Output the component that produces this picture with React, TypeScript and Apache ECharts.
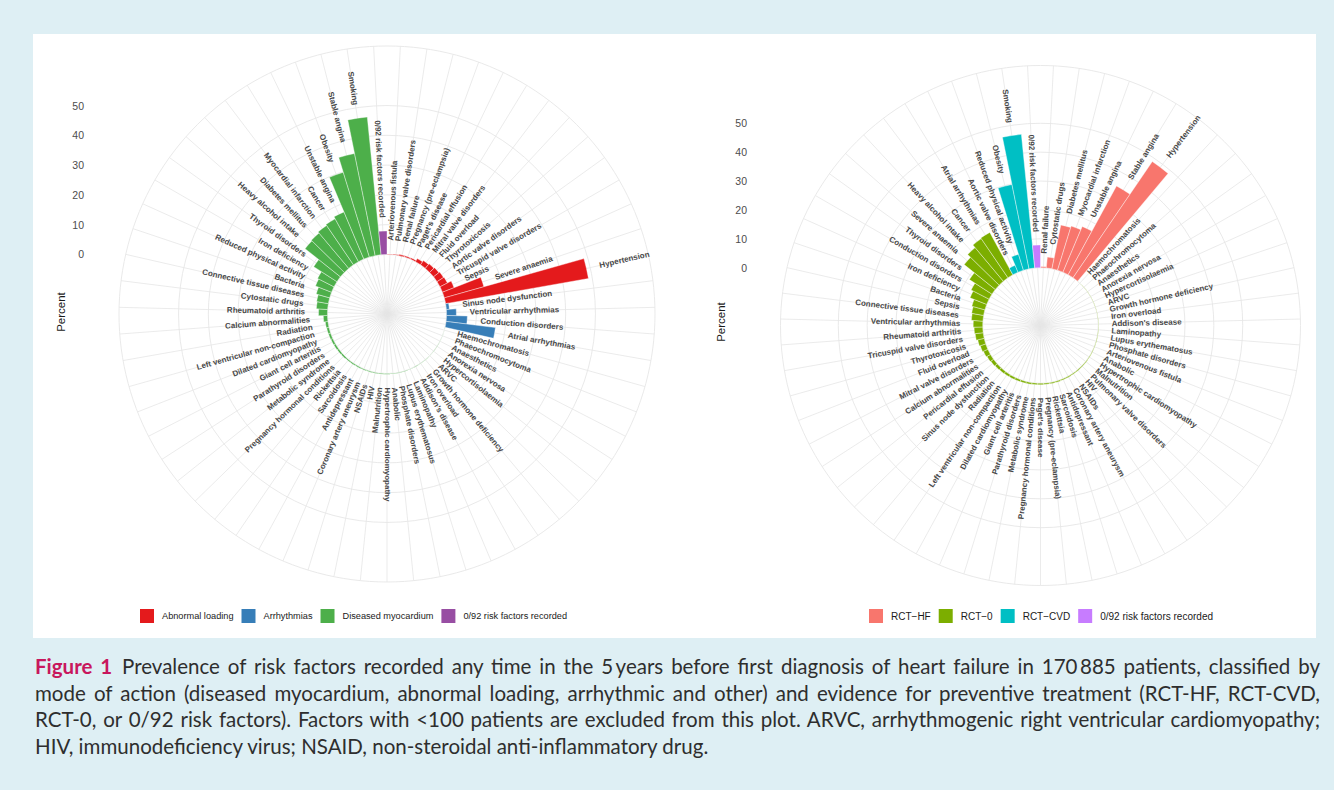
import { useEffect, useRef } from "react";
import * as echarts from "echarts";

// Risk factors, listed with their prevalence (% of patients) in the 5 years before HF diagnosis
const factors: string[] = [
  "Haemochromatosis", "Phaeochromocytoma", "Anaesthetics", "Anorexia nervosa", "Hypercortisolaemia", "ARVC",
  "Growth hormone deficiency", "Iron overload", "Addison's disease", "Laminopathy", "Lupus erythematosus",
  "Phosphate disorders", "Arteriovenous fistula", "Anabolic", "Hypertrophic cardiomyopathy", "Malnutrition",
  "Pulmonary valve disorders", "HIV", "NSAIDs", "Coronary artery aneurysm", "Antidepressant", "Sarcoidosis",
  "Rickettsia", "Renal failure", "Pregnancy (pre-eclampsia)", "Paget's disease", "Pregnancy hormonal conditions",
  "Metabolic syndrome", "Parathyroid disorders", "Giant cell arteritis", "Dilated cardiomyopathy",
  "Left ventricular non-compaction", "Radiation", "Sinus node dysfunction", "Pericardial effusion",
  "Calcium abnormalities", "Mitral valve disorders", "Fluid overload", "Thyrotoxicosis", "Aortic valve disorders",
  "Tricuspid valve disorders", "Rheumatoid arthritis", "Ventricular arrhythmias", "Cytostatic drugs",
  "Connective tissue diseases", "Sepsis", "Bacteria", "Reduced physical activity", "Iron deficiency",
  "Conduction disorders", "Thyroid disorders", "Severe anaemia", "Heavy alcohol intake", "Diabetes mellitus",
  "Myocardial infarction", "Cancer", "Atrial arrhythmias", "Unstable angina", "Obesity", "Stable angina",
  "Smoking", "Hypertension", "0/92 risk factors recorded",
];

const prevalence: number[] = [
  0.05, 0.06, 0.07, 0.08, 0.09, 0.1,
  0.11, 0.12, 0.13, 0.14, 0.16,
  0.18, 0.19, 0.2, 0.22, 0.25,
  0.27, 0.3, 0.32, 0.35, 0.38, 0.4,
  0.42, 0.43, 0.45, 0.5, 0.55,
  0.6, 0.65, 0.7, 0.75,
  0.8, 0.9, 1.0, 1.2,
  1.4, 1.7, 2.0, 2.3, 2.6,
  2.8, 3.0, 3.3, 3.8,
  4.0, 4.2, 4.7, 5.8, 6.2,
  7.0, 9.3, 13.8, 15.2, 15.5,
  16.0, 16.4, 16.7, 17.2, 29.8, 35.0,
  46.5, 48.7, 7.9,
];

// Mode of action of each factor (left wheel)
const AL = "Abnormal loading";
const AR = "Arrhythmias";
const DM = "Diseased myocardium";
const NONE = "0/92 risk factors recorded";
const modeOfAction: string[] = [
  DM, DM, DM, DM, DM, DM,
  DM, DM, DM, DM, DM,
  DM, AL, DM, DM, DM,
  AL, DM, DM, DM, DM, DM,
  DM, AL, AL, AL, DM,
  DM, DM, DM, DM,
  DM, DM, AR, AL,
  DM, AL, AL, AL, AL,
  AL, DM, AR, DM,
  DM, AL, DM, DM, DM,
  AR, DM, AL, DM, DM,
  DM, DM, AR, DM, DM, DM,
  DM, AL, NONE,
];
const modeGroups: string[] = [AL, AR, DM, NONE];
const modeColors: string[] = ["#E41A1C", "#377EB8", "#4DAF4A", "#984EA3"];

// Evidence for preventive treatment of each factor (right wheel)
const HF = "RCT\u2212HF";
const R0 = "RCT\u22120";
const CVD = "RCT\u2212CVD";
const treatmentEvidence: string[] = [
  R0, R0, R0, R0, R0, R0,
  R0, R0, R0, R0, R0,
  R0, R0, R0, R0, R0,
  R0, R0, R0, R0, R0, R0,
  R0, HF, R0, R0, R0,
  R0, R0, R0, R0,
  R0, R0, R0, R0,
  R0, R0, R0, R0, CVD,
  R0, R0, R0, HF,
  R0, R0, R0, CVD, R0,
  R0, R0, R0, R0, HF,
  HF, R0, R0, HF, CVD, HF,
  CVD, HF, NONE,
];
const evidenceGroups: string[] = [HF, R0, CVD, NONE];
const evidenceColors: string[] = ["#F8766D", "#7CAE00", "#00BFC4", "#C77CFF"];

const percentTicks: number[] = [0, 10, 20, 30, 40, 50];
const RADIAL_MIN = -20;
const RADIAL_MAX = 70;
const LABEL_PAD = 4.5;
const GRID_COLOR = "#E6E6E6";

// factor indices sorted by group, then ascending prevalence
function wheelOrder(groupOf: string[], groups: string[]): number[] {
  return factors
    .map((_, i) => i)
    .sort((a, b) => {
      const ga = groups.indexOf(groupOf[a]);
      const gb = groups.indexOf(groupOf[b]);
      if (ga !== gb) return ga - gb;
      return prevalence[a] - prevalence[b];
    });
}

interface WheelSpec {
  polarIndex: number;
  order: number[];
  groupOf: string[];
  groups: string[];
  colors: string[];
  tickOffset: number;
  tickFont: number;
  labelFont: number;
}

function wheelSeries(w: WheelSpec): any[] {
  const out: any[] = [];
  // spokes through every factor, from the centre to the rim
  out.push({
    type: "custom",
    coordinateSystem: "polar",
    polarIndex: w.polarIndex,
    silent: true,
    z: 1,
    data: w.order.map((_, k) => [RADIAL_MAX, k]),
    renderItem: (params: any, api: any) => {
      const cs = params.coordSys;
      const p = api.coord([api.value(0), api.value(1)]);
      return {
        type: "line",
        shape: { x1: cs.cx, y1: cs.cy, x2: p[0], y2: p[1] },
        style: { stroke: GRID_COLOR, lineWidth: 0.8 },
      };
    },
  });
  // grid circles at the percent breaks and at the outer rim
  out.push({
    type: "custom",
    coordinateSystem: "polar",
    polarIndex: w.polarIndex,
    silent: true,
    z: 1,
    data: [...percentTicks, RADIAL_MAX].map((v) => [v, 0]),
    renderItem: (params: any, api: any) => {
      const cs = params.coordSys;
      const p = api.coord([api.value(0), 0]);
      const r = Math.hypot(p[0] - cs.cx, p[1] - cs.cy);
      return {
        type: "circle",
        shape: { cx: cs.cx, cy: cs.cy, r },
        style: { fill: "none", stroke: GRID_COLOR, lineWidth: 0.9 },
      };
    },
  });
  // radial tick labels on the left
  out.push({
    type: "custom",
    coordinateSystem: "polar",
    polarIndex: w.polarIndex,
    silent: true,
    z: 6,
    data: percentTicks.map((v) => [v, 0]),
    renderItem: (params: any, api: any) => {
      const cs = params.coordSys;
      const p = api.coord([api.value(0), 0]);
      const r = Math.hypot(p[0] - cs.cx, p[1] - cs.cy);
      return {
        type: "text",
        x: cs.cx - w.tickOffset,
        y: cs.cy - r,
        style: {
          text: String(percentTicks[params.dataIndex]),
          textAlign: "right",
          textVerticalAlign: "middle",
          fontSize: w.tickFont,
          fontFamily: "Liberation Sans",
          fill: "#4D4D4D",
        },
      };
    },
  });
  // bars, one series per group
  w.groups.forEach((g, gi) => {
    out.push({
      type: "bar",
      name: g,
      coordinateSystem: "polar",
      polarIndex: w.polarIndex,
      barGap: "-100%",
      barCategoryGap: "0%",
      z: 3,
      itemStyle: { color: w.colors[gi], borderColor: "#ffffff", borderWidth: 0.4 },
      data: w.order.map((fi) => (w.groupOf[fi] === g ? prevalence[fi] : "-")),
    });
  });
  // factor labels, placed just beyond each bar and turned along the radius
  out.push({
    type: "custom",
    coordinateSystem: "polar",
    polarIndex: w.polarIndex,
    silent: true,
    z: 5,
    data: w.order.map((fi, k) => [prevalence[fi] + LABEL_PAD, k]),
    renderItem: (params: any, api: any) => {
      const cs = params.coordSys;
      const p = api.coord([api.value(0), api.value(1)]);
      const dx = p[0] - cs.cx;
      const dy = p[1] - cs.cy;
      let theta = (Math.atan2(dx, -dy) * 180) / Math.PI;
      if (theta < 0) theta += 360;
      let a = 90 - theta;
      let align = "left";
      if (theta > 180.01) {
        a += 180;
        align = "right";
      }
      return {
        type: "text",
        x: p[0],
        y: p[1],
        rotation: (a * Math.PI) / 180,
        style: {
          text: factors[w.order[params.dataIndex]],
          textAlign: align,
          textVerticalAlign: "middle",
          fontSize: w.labelFont,
          fontWeight: "bold",
          fontFamily: "Liberation Sans",
          fill: "#484848",
        },
      };
    },
  });
  return out;
}

function axesFor(polarIndex: number, order: number[]) {
  const n = order.length;
  return {
    angle: {
      polarIndex,
      type: "category",
      data: order.map((fi) => factors[fi]),
      boundaryGap: false,
      startAngle: 90 - 180 / n,
      clockwise: true,
      axisLine: { show: false },
      axisTick: { show: false },
      axisLabel: { show: false },
      splitLine: { show: false },
    },
    radius: {
      polarIndex,
      type: "value",
      min: RADIAL_MIN,
      max: RADIAL_MAX,
      axisLine: { show: false },
      axisTick: { show: false },
      axisLabel: { show: false },
      splitLine: { show: false },
    },
  };
}

function Wheels() {
  const ref = useRef<HTMLDivElement>(null);
  useEffect(() => {
    if (!ref.current) return;
    const chart = echarts.init(ref.current, undefined, { renderer: "svg" });
    const leftOrder = wheelOrder(modeOfAction, modeGroups);
    const rightOrder = wheelOrder(treatmentEvidence, evidenceGroups);
    const la = axesFor(0, leftOrder);
    const ra = axesFor(1, rightOrder);
    const legendText = (size: number) => ({
      fontSize: size,
      color: "#1A1A1A",
      fontFamily: "Liberation Sans",
      padding: [0, 0, 0, 2],
    });
    const percentLabel = (x: number, y: number) => ({
      type: "text",
      x,
      y,
      rotation: Math.PI / 2,
      style: {
        text: "Percent",
        textAlign: "center",
        textVerticalAlign: "middle",
        fontSize: 11.5,
        fontFamily: "Liberation Sans",
        fill: "#1A1A1A",
      },
    });
    chart.setOption({
      animation: false,
      backgroundColor: "#ffffff",
      polar: [
        { center: [354, 280], radius: [0, 268] },
        { center: [1007.5, 291.5], radius: [0, 260] },
      ],
      angleAxis: [la.angle, ra.angle],
      radiusAxis: [la.radius, ra.radius],
      legend: [
        {
          left: 105,
          top: 573,
          padding: 0,
          icon: "rect",
          itemWidth: 16,
          itemHeight: 16,
          itemGap: 6,
          selectedMode: false,
          textStyle: legendText(9.2),
          data: modeGroups.map((g, i) => ({ name: g, itemStyle: { color: modeColors[i] } })),
        },
        {
          left: 834,
          top: 573,
          padding: 0,
          icon: "rect",
          itemWidth: 16,
          itemHeight: 16,
          itemGap: 6,
          selectedMode: false,
          textStyle: legendText(10),
          data: evidenceGroups.map((g, i) => ({ name: g, itemStyle: { color: evidenceColors[i] } })),
        },
      ],
      graphic: [percentLabel(28, 278), percentLabel(688, 288)],
      series: [
        ...wheelSeries({
          polarIndex: 0,
          order: leftOrder,
          groupOf: modeOfAction,
          groups: modeGroups,
          colors: modeColors,
          tickOffset: 303,
          tickFont: 10.5,
          labelFont: 8,
        }),
        ...wheelSeries({
          polarIndex: 1,
          order: rightOrder,
          groupOf: treatmentEvidence,
          groups: evidenceGroups,
          colors: evidenceColors,
          tickOffset: 293.5,
          tickFont: 10.5,
          labelFont: 8,
        }),
      ],
    });
    return () => chart.dispose();
  }, []);
  return (
    <div
      ref={ref}
      style={{ position: "absolute", left: 33, top: 34, width: 1283, height: 604, background: "#ffffff" }}
    />
  );
}

const captionLines: string[] = [
  "Prevalence of risk factors recorded any time in the 5\u2009years before first diagnosis of heart failure in 170\u2009885 patients, classified by",
  "mode of action (diseased myocardium, abnormal loading, arrhythmic and other) and evidence for preventive treatment (RCT-HF, RCT-CVD,",
  "RCT-0, or 0/92 risk factors). Factors with <100 patients are excluded from this plot. ARVC, arrhythmogenic right ventricular cardiomyopathy;",
  "HIV, immunodeficiency virus; NSAID, non-steroidal anti-inflammatory drug.",
];

export default function App() {
  const lineStyle = (i: number): React.CSSProperties => {
    const justify = i < captionLines.length - 1;
    return {
      position: "absolute",
      left: 0,
      top: i * 26.6,
      width: 1285,
      height: 27,
      lineHeight: "27px",
      textAlign: justify ? "justify" : "left",
      textAlignLast: justify ? "justify" : "left",
      whiteSpace: "nowrap",
    };
  };
  return (
    <div
      style={{
        position: "fixed",
        left: 0,
        top: 0,
        width: 1334,
        height: 790,
        background: "#DEEFF4",
        overflow: "hidden",
      }}
    >
      <Wheels />
      <div
        style={{
          position: "absolute",
          left: 35,
          top: 653,
          width: 1285,
          height: 110,
          fontFamily: "Lato, 'Open Sans', sans-serif",
          fontSize: 20.5,
          color: "#2E2E2E",
        }}
      >
        {captionLines.map((t, i) => (
          <div key={i} style={lineStyle(i)}>
            {i === 0 && (
              <span style={{ color: "#C8175D", fontWeight: 700, fontSize: 20.5, marginRight: 10 }}>Figure 1</span>
            )}
            {t}
          </div>
        ))}
      </div>
    </div>
  );
}
